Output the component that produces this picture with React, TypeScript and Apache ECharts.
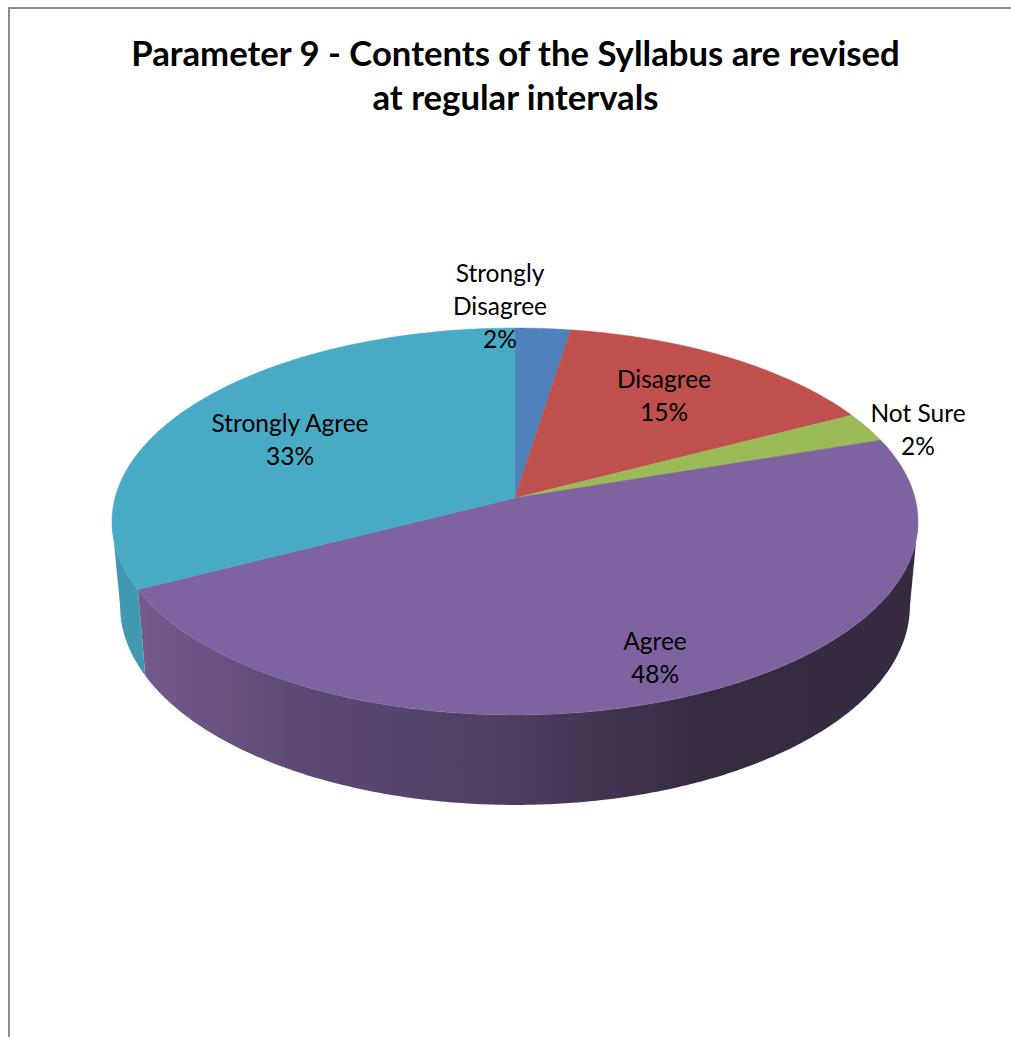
import React, { useEffect, useRef } from "react";
import * as echarts from "echarts";

const categories = ["Strongly Disagree", "Disagree", "Not Sure", "Agree", "Strongly Agree"];
const labelLines = [["Strongly", "Disagree"], ["Disagree"], ["Not Sure"], ["Agree"], ["Strongly Agree"]];
const values = [2.49, 14.92, 2.49, 47.6, 32.5];
const topColors = ["#4f81bd", "#c0504d", "#9bbb59", "#7f62a0", "#48aac5"];
const titleText = "Parameter 9 - Contents of the Syllabus are revised\nat regular intervals";

// Layout of the tilted disc
const CX = 515;
const TOP_Y = 498;
const BOTTOM_Y = 581.5;
const RX = 400;
const RY = 190.6;
const K = 0.1214;
const BOTTOM_SX = 0.98;
const BOTTOM_SY = 1.03;
const FONT = "Lato, Carlito, Calibri, sans-serif";
const labelCenters = [
  [500, 305],
  [664, 394.5],
  [918, 428.5],
  [655, 656.5],
  [290, 438.5],
];

const project = (deg: number, bottom: boolean) => {
  const t = (deg * Math.PI) / 180;
  const w = 1 + K * Math.cos(t);
  const sx = bottom ? BOTTOM_SX : 1;
  const sy = bottom ? BOTTOM_SY : 1;
  return [CX + (RX * sx * Math.sin(t)) / w, (bottom ? BOTTOM_Y : TOP_Y) - (RY * sy * Math.cos(t)) / w];
};

const arc = (a: number, b: number, bottom: boolean) => {
  const pts: number[][] = [];
  const n = Math.max(2, Math.ceil(Math.abs(b - a) * 2));
  for (let i = 0; i <= n; i++) pts.push(project(a + ((b - a) * i) / n, bottom));
  return pts;
};

const total = values.reduce((s, v) => s + v, 0);
const startAngle = (i: number) => (values.slice(0, i).reduce((s, v) => s + v, 0) / total) * 360;

const RIGHT_TANGENT = 97;
const LEFT_TANGENT = 263;

const sideFill = (i: number): any => {
  if (i === 3) {
    return new echarts.graphic.LinearGradient(0, 0, 1, 0, [
      { offset: 0, color: "#775a8e" },
      { offset: 0.2, color: "#5c4a75" },
      { offset: 0.47, color: "#4e3e62" },
      { offset: 0.72, color: "#372b41" },
      { offset: 1, color: "#352a3f" },
    ]);
  }
  return "#3f9ab1";
};

const renderSlice = (params: any, api: any) => {
  const i = params.dataIndex;
  const a0 = startAngle(i);
  const a1 = a0 + (api.value(0) / total) * 360;
  const children: any[] = [];
  const s0 = Math.max(a0, RIGHT_TANGENT);
  const s1 = Math.min(a1, LEFT_TANGENT);
  if (s1 > s0) {
    children.push({
      type: "polygon",
      shape: { points: [...arc(s0, s1, false), ...arc(s1, s0, true)] },
      style: { fill: sideFill(i), stroke: null },
    });
  }
  children.push({
    type: "polygon",
    shape: { points: [[CX, TOP_Y], ...arc(a0, a1, false)] },
    style: { fill: topColors[i], stroke: topColors[i], lineWidth: 0.5 },
  });
  return { type: "group", children };
};

const renderLabel = (params: any, api: any) => {
  const i = params.dataIndex;
  const lines = [...labelLines[i], `${Math.round(api.value(0))}%`];
  return {
    type: "text",
    x: labelCenters[i][0],
    y: labelCenters[i][1],
    style: {
      text: lines.join("\n"),
      align: "center",
      verticalAlign: "middle",
      fontFamily: FONT,
      fontSize: 24.5,
      lineHeight: 33,
      fill: "#000000",
    },
  };
};

export default function App() {
  const ref = useRef<HTMLDivElement>(null);
  useEffect(() => {
    const chart = echarts.init(ref.current!, undefined, { renderer: "svg" });
    chart.setOption({
      animation: false,
      backgroundColor: "#ffffff",
      title: {
        text: titleText,
        left: 510.5,
        top: 25,
        textAlign: "center",
        textStyle: { fontFamily: FONT, fontSize: 34.7, fontWeight: "bold", color: "#000000", lineHeight: 44 },
      },
      graphic: [
        {
          type: "rect",
          shape: { x: 9, y: 8, width: 1100, height: 1100 },
          style: { fill: "none", stroke: "#8c8c8c", lineWidth: 2 },
          silent: true,
        },
      ],
      series: [
        {
          type: "custom",
          name: "Slices",
          coordinateSystem: "none",
          renderItem: renderSlice,
          data: values.map((v, i) => ({ name: categories[i], value: [v] })),
          silent: true,
          z: 2,
        },
        {
          type: "custom",
          name: "Labels",
          coordinateSystem: "none",
          renderItem: renderLabel,
          data: values.map((v, i) => ({ name: categories[i], value: [v] })),
          silent: true,
          z: 5,
        },
      ],
    });
    return () => chart.dispose();
  }, []);
  return <div ref={ref} style={{ position: "absolute", left: 0, top: 0, width: 1011, height: 1037 }} />;
}
